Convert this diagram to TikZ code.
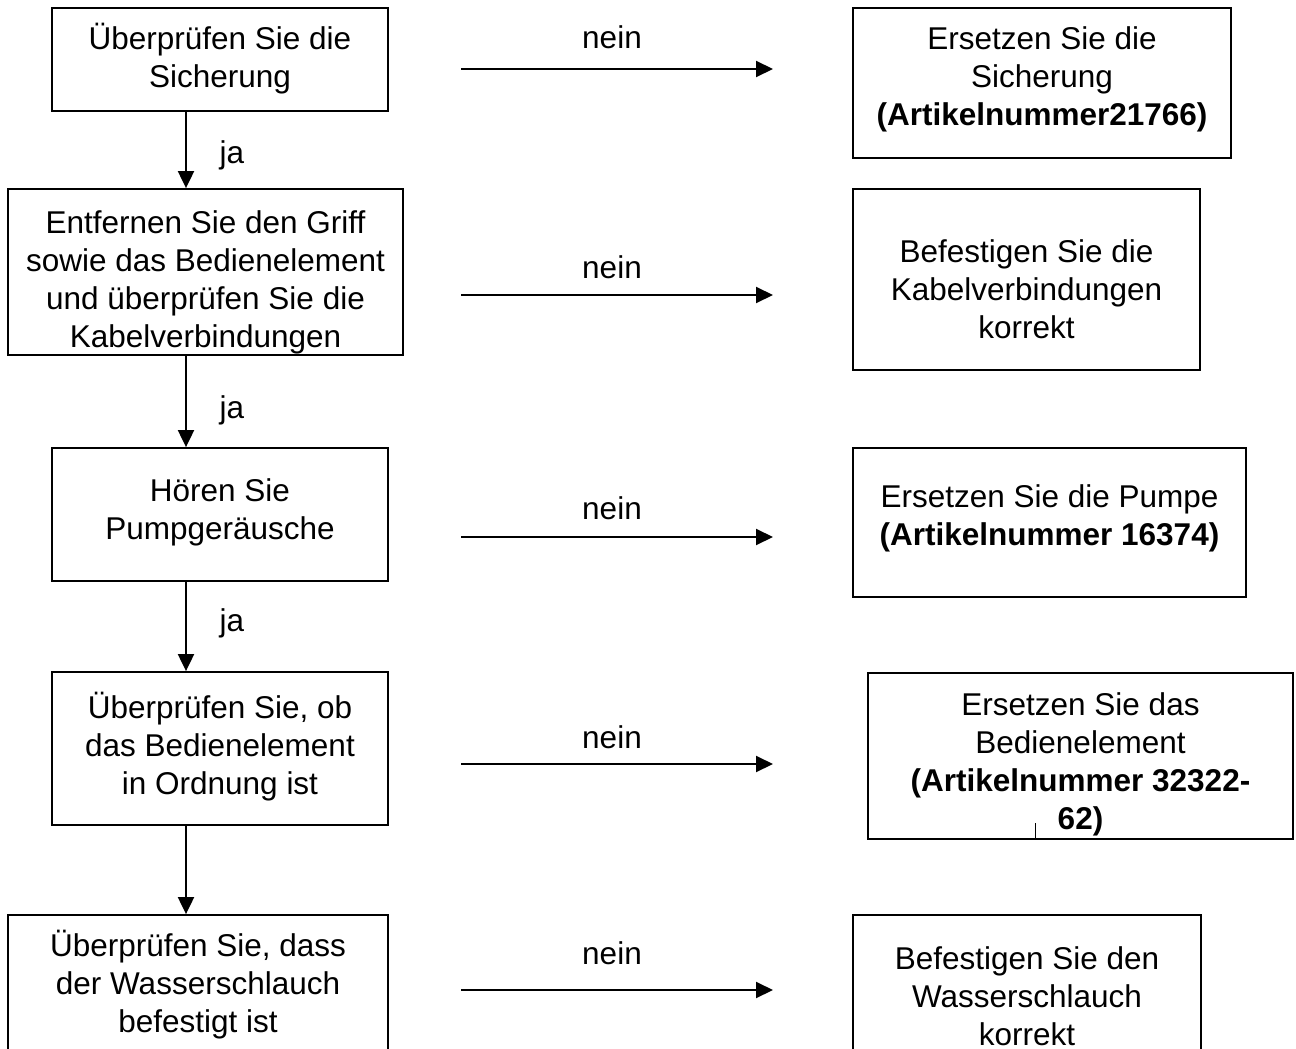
\documentclass[tikz,border=0pt]{standalone}
\usepackage{fontspec}
\setmainfont{Liberation Sans}
\usetikzlibrary{arrows.meta}
\begin{document}
\begin{tikzpicture}[x=1pt,y=-1pt,
  every node/.style={font=\fontsize{31.5}{38}\selectfont},
  box/.style={draw,line width=1.8pt,inner sep=0pt},
  txt/.style={align=center,inner sep=0pt},
  lbl/.style={inner sep=0pt,anchor=center},
  arr/.style={line width=2pt,-{Triangle[length=17pt,width=16pt]}}]
\useasboundingbox (0,0) rectangle (1296,1049);
\clip (0,0) rectangle (1296,1049);
% left column
\node[box,minimum width=336pt,minimum height=103pt] (L1) at (220,59.5) {};
\node[txt] (L1t) at (220,58.5) {Überprüfen Sie die\\Sicherung};
\node[box,minimum width=395pt,minimum height=166pt] (L2) at (205.5,272) {};
\node[txt] (L2t) at (205.5,282) {Entfernen Sie den Griff\\sowie das Bedienelement\\und überprüfen Sie die\\Kabelverbindungen};
\node[box,minimum width=336pt,minimum height=133pt] (L3) at (220,514.5) {};
\node[txt] (L3t) at (220,512) {Hören Sie\\Pumpgeräusche};
\node[box,minimum width=336pt,minimum height=153pt] (L4) at (220,748.5) {};
\node[txt] (L4t) at (220,746.5) {Überprüfen Sie, ob\\das Bedienelement\\in Ordnung ist};
\node[box,minimum width=380pt,minimum height=136pt] (L5) at (198,983) {};
\node[txt] (L5t) at (198,985) {Überprüfen Sie, dass\\der Wasserschlauch\\befestigt ist};
% right column
\node[box,minimum width=378pt,minimum height=150pt] (R1) at (1042,83) {};
\node[txt] (R1t) at (1042,79) {Ersetzen Sie die\\Sicherung\\\textbf{(Artikelnummer21766)}};
\node[box,minimum width=347pt,minimum height=181pt] (R2) at (1026.5,279.5) {};
\node[txt] (R2t) at (1026.5,289.5) {Befestigen Sie die\\Kabelverbindungen\\korrekt};
\node[box,minimum width=393pt,minimum height=149pt] (R3) at (1049.5,522.5) {};
\node[txt] (R3t) at (1049.5,518.5) {Ersetzen Sie die Pumpe\\\textbf{(Artikelnummer 16374)}};
\node[box,minimum width=425pt,minimum height=166pt] (R4) at (1080.5,756) {};
\node[txt] (R4t) at (1080.5,764) {Ersetzen Sie das\\Bedienelement\\\textbf{(Artikelnummer 32322-}\\\textbf{62)}};
\node[box,minimum width=348pt,minimum height=162pt] (R5) at (1027,996) {};
\node[txt] (R5t) at (1027,996) {Befestigen Sie den\\Wasserschlauch\\korrekt};
\coordinate (tk) at (1035,823);
\draw[line width=1pt] (tk) -- (tk |- R4.south);
% vertical connectors
\coordinate (cx) at (186,0);
\draw[arr] (L1.south -| cx) -- (L2.north -| cx);
\draw[arr] (L2.south -| cx) -- (L3.north -| cx);
\draw[arr] (L3.south -| cx) -- (L4.north -| cx);
\draw[arr] (L4.south -| cx) -- (L5.north -| cx);
\node[lbl] (j1) at (232,155) {ja};
\node[lbl] (j2) at (232,410) {ja};
\node[lbl] (j3) at (232,623) {ja};
% horizontal arrows
\foreach \i/\y/\ny in {1/69/37,2/295/267,3/537/508,4/764/737,5/990/953}{
  \coordinate (a\i) at (461,\y);
  \coordinate (b\i) at (773,\y);
  \draw[arr] (a\i) -- (b\i);
  \node[lbl] (n\i) at (612,\ny) {nein};
}
\end{tikzpicture}
\end{document}
